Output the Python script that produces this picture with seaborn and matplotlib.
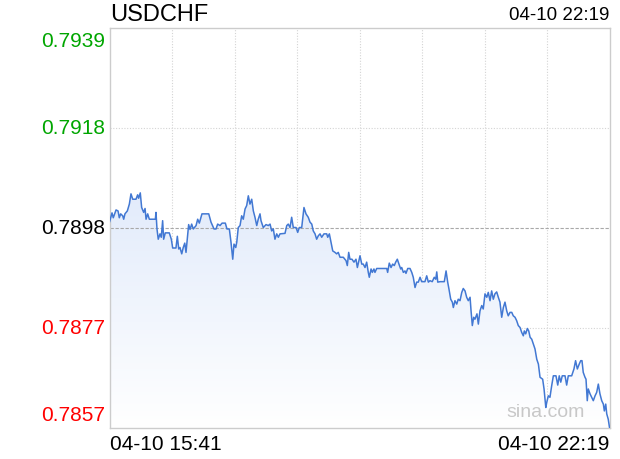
import numpy as np
import pandas as pd
import matplotlib
matplotlib.use("Agg")
import matplotlib.pyplot as plt
import seaborn as sns

# ---- data (minutes after 15:41, price) ----
minutes = [0, 2.0, 3.0, 5.2, 6.8, 7.8, 8.9, 10.5, 11.3, 12.3, 14.2, 15.8, 17.1, 18.5, 21.1, 22.4, 23.2, 24.5,
           25.6, 27.2, 28.3, 29.1, 30.4, 31.7, 36.5, 37.0, 37.8, 38.8, 40.2, 41.2, 42.3, 43.1, 44.4, 47.6, 49.2,
           50.3, 52.9, 54.0, 55.1, 56.1, 57.5, 58.7, 59.9, 60.9, 61.7, 63.0, 64.1, 65.4, 66.7, 68.9, 70.2, 71.5,
           73.6, 79.0, 80.8, 83.2, 84.8, 86.1, 88.0, 89.6, 92.2, 93.5, 95.4, 96.7, 98.1, 99.1, 100.5, 101.3,
           102.5, 103.9, 105.2, 106.5, 107.9, 109.2, 110.5, 111.8, 113.2, 114.5, 115.8, 117.2, 118.4, 119.8,
           120.6, 122.4, 124.6, 126.4, 127.8, 129.1, 130.4, 131.7, 133.1, 134.4, 135.7, 139.7, 141.1, 142.3,
           143.7, 145.0, 146.3, 148.5, 149.8, 151.1, 153.0, 154.8, 156.4, 158.2, 159.6, 161.0, 162.2, 163.6,
           164.9, 166.2, 167.6, 168.9, 170.7, 172.9, 173.7, 175.0, 176.1, 177.7, 179.5, 180.8, 182.1, 183.5,
           186.1, 188.3, 189.3, 190.4, 191.4, 193.0, 194.6, 196.2, 197.3, 198.8, 199.4, 200.8, 202.0, 203.4,
           204.7, 206.0, 206.8, 208.2, 209.2, 210.5, 211.3, 212.7, 220.7, 221.4, 222.7, 224.1, 225.4, 226.7,
           227.8, 229.1, 230.4, 231.8, 232.6, 233.9, 235.2, 236.0, 237.4, 239.2, 240.6, 241.8, 243.2, 244.5,
           245.8, 247.2, 248.5, 251.1, 252.5, 253.8, 255.1, 256.9, 258.5, 259.7, 260.5, 261.3, 263.1, 266.5,
           267.9, 269.2, 270.2, 271.6, 272.9, 273.7, 275.0, 276.4, 277.6, 279.0, 280.4, 281.6, 283.0, 284.3,
           285.6, 287.0, 287.8, 288.8, 289.9, 290.9, 292.5, 293.6, 294.9, 296.3, 297.5, 298.9, 300.3, 301.5,
           302.9, 304.2, 305.5, 306.8, 308.2, 309.5, 310.8, 312.2, 313.5, 314.8, 316.2, 317.4, 318.8, 320.2,
           321.4, 322.8, 324.1, 325.4, 326.8, 328.1, 329.4, 330.2, 331.3, 332.6, 333.7, 334.8, 336.1, 337.4,
           338.7, 340.1, 341.4, 342.7, 344.8, 345.9, 347.3, 348.1, 349.3, 350.6, 352.0, 353.3, 355.4, 356.8,
           358.0, 359.2, 360.4, 362.6, 363.9, 365.2, 367.9, 369.7, 371.0, 372.4, 373.9, 375.1, 376.1, 377.1,
           378.5, 379.3, 380.3, 381.1, 382.5, 383.8, 385.1, 386.5, 387.8, 389.1, 390.4, 391.8, 393.1, 393.9,
           395.0, 395.8, 397.0, 398.0]
prices = [0.78992, 0.79011, 0.79001, 0.79017, 0.79015, 0.79001, 0.79009, 0.79005, 0.78998, 0.79009, 0.79015,
          0.79029, 0.79050, 0.79039, 0.79039, 0.79048, 0.79041, 0.79052, 0.79022, 0.79012, 0.79020, 0.78998,
          0.79009, 0.78998, 0.78998, 0.79012, 0.78978, 0.78957, 0.78968, 0.78961, 0.78995, 0.78957, 0.78970,
          0.78970, 0.78957, 0.78939, 0.78939, 0.78963, 0.78937, 0.78940, 0.78927, 0.78940, 0.78949, 0.78930,
          0.78951, 0.78987, 0.78977, 0.78988, 0.78978, 0.78985, 0.78998, 0.78990, 0.79009, 0.79009, 0.78992,
          0.78978, 0.78978, 0.78988, 0.78985, 0.78990, 0.78990, 0.78978, 0.78978, 0.78951, 0.78916, 0.78947,
          0.78940, 0.78951, 0.78981, 0.78985, 0.79005, 0.78998, 0.79019, 0.79026, 0.79046, 0.79029, 0.79039,
          0.79015, 0.79002, 0.78985, 0.78998, 0.79009, 0.78995, 0.78981, 0.78987, 0.78985, 0.78988, 0.78974,
          0.78978, 0.78957, 0.78968, 0.78961, 0.78968, 0.78969, 0.78985, 0.78988, 0.78981, 0.79002, 0.78981,
          0.78981, 0.78971, 0.78981, 0.78981, 0.79022, 0.79009, 0.79002, 0.78992, 0.78988, 0.78974, 0.78968,
          0.78957, 0.78964, 0.78968, 0.78961, 0.78968, 0.78968, 0.78961, 0.78968, 0.78954, 0.78933, 0.78930,
          0.78927, 0.78930, 0.78920, 0.78920, 0.78913, 0.78903, 0.78930, 0.78916, 0.78916, 0.78910, 0.78916,
          0.78899, 0.78916, 0.78923, 0.78906, 0.78906, 0.78899, 0.78910, 0.78889, 0.78879, 0.78896, 0.78889,
          0.78896, 0.78889, 0.78897, 0.78897, 0.78889, 0.78908, 0.78899, 0.78906, 0.78903, 0.78910, 0.78916,
          0.78906, 0.78896, 0.78899, 0.78889, 0.78892, 0.78887, 0.78897, 0.78897, 0.78889, 0.78879, 0.78858,
          0.78869, 0.78869, 0.78879, 0.78870, 0.78870, 0.78882, 0.78869, 0.78872, 0.78870, 0.78879, 0.78875,
          0.78890, 0.78869, 0.78870, 0.78870, 0.78892, 0.78869, 0.78855, 0.78834, 0.78828, 0.78817, 0.78831,
          0.78824, 0.78834, 0.78831, 0.78848, 0.78856, 0.78851, 0.78838, 0.78831, 0.78838, 0.78810, 0.78780,
          0.78797, 0.78793, 0.78804, 0.78783, 0.78810, 0.78821, 0.78814, 0.78845, 0.78838, 0.78848, 0.78831,
          0.78851, 0.78834, 0.78845, 0.78849, 0.78838, 0.78828, 0.78797, 0.78817, 0.78828, 0.78810, 0.78800,
          0.78807, 0.78807, 0.78800, 0.78797, 0.78790, 0.78780, 0.78776, 0.78766, 0.78759, 0.78769, 0.78763,
          0.78774, 0.78769, 0.78756, 0.78752, 0.78742, 0.78732, 0.78711, 0.78701, 0.78674, 0.78670, 0.78650,
          0.78612, 0.78623, 0.78636, 0.78633, 0.78657, 0.78677, 0.78677, 0.78658, 0.78677, 0.78664, 0.78677,
          0.78677, 0.78658, 0.78677, 0.78677, 0.78691, 0.78708, 0.78691, 0.78701, 0.78708, 0.78708, 0.78684,
          0.78674, 0.78670, 0.78626, 0.78650, 0.78640, 0.78633, 0.78626, 0.78636, 0.78643, 0.78660, 0.78640,
          0.78626, 0.78619, 0.78605, 0.78619, 0.78599, 0.78588, 0.78571]

y_top, y_bottom = 0.79390, 0.78570
prev_close = 0.78980
y_tick_values = [0.79390, 0.79185, 0.78980, 0.78775, 0.78570]
y_tick_labels = ["0.7939", "0.7918", "0.7898", "0.7877", "0.7857"]
y_tick_colors = ["#00a600", "#00a600", "#000000", "#ff0000", "#ff0000"]
total_minutes = 398
title = "USDCHF"
start_label = "04-10 15:41"
end_label = "04-10 22:19"

df = pd.DataFrame({"minute": minutes, "price": prices})

sns.set_style("white")
plt.rcParams["font.family"] = ["Liberation Sans", "DejaVu Sans"]

fig = plt.figure(figsize=(6.2, 4.6), dpi=100)
ax = fig.add_axes([109.5 / 620, 31 / 460, 500 / 620, 400 / 460])

# gradient fill under the line
grad = np.linspace(1, 0, 256).reshape(-1, 1)
from matplotlib.colors import LinearSegmentedColormap
cmap = LinearSegmentedColormap.from_list("g", ["#ffffff", "#e2ebfb"])
im = ax.imshow(grad[::-1] * 0 + np.linspace(1, 0, 256).reshape(-1, 1), cmap=cmap, aspect="auto",
               extent=[0, total_minutes, y_bottom, max(prices)], origin="upper", zorder=1,
               vmin=0, vmax=1)
poly = ax.fill_between(df["minute"], df["price"], y_bottom, color="none", lw=0)
clip_path = poly.get_paths()[0]
im.set_clip_path(clip_path, transform=ax.transData)

sns.lineplot(data=df, x="minute", y="price", ax=ax, color="#4278d3", lw=1.1, zorder=3)

ax.set_xlim(0, total_minutes)
ax.set_ylim(y_bottom, y_top)

# grid
for i in range(1, 8):
    ax.axvline(total_minutes * i / 8, color="#d4d4d4", lw=0.8, ls=(0, (1, 1.5)), zorder=0.5)
for v in (y_tick_values[1], y_tick_values[3]):
    ax.axhline(v, color="#d4d4d4", lw=0.8, ls=(0, (1, 1.5)), zorder=0.5)
ax.axhline(prev_close, color="#a8a8a8", lw=0.8, ls=(0, (3, 1.5)), zorder=2)

ax.set_xticks([])
ax.set_yticks([])
ax.set_xlabel("")
ax.set_ylabel("")
for s in ax.spines.values():
    s.set_color("#cccccc")
    s.set_linewidth(1.0)

# y labels
trans = ax.get_yaxis_transform()
for i, (v, lab, c) in enumerate(zip(y_tick_values, y_tick_labels, y_tick_colors)):
    va = "center"
    off = 0
    if i == 0:
        va = "top"; off = -3
    elif i == len(y_tick_values) - 1:
        va = "bottom"; off = 4
    ax.annotate(lab, xy=(0, v), xycoords=trans, xytext=(-4, off), textcoords="offset pixels",
                ha="right", va=va, color=c, fontsize=15)

fig.text(110 / 620, 1 - 15 / 460, title, ha="left", va="center", fontsize=17, color="#000000")
fig.text(609 / 620, 1 - 16 / 460, end_label, ha="right", va="center", fontsize=13.5, color="#000000")
fig.text(110 / 620, 1 - 445 / 460, start_label, ha="left", va="center", fontsize=15, color="#000000")
fig.text(609 / 620, 1 - 445 / 460, end_label, ha="right", va="center", fontsize=15, color="#000000")

ax.text(0.951, 0.04, "sina.com", transform=ax.transAxes, ha="right", va="center",
        fontsize=14, color="#c8c8c8", zorder=2)

fig.savefig("out.png", dpi=100)
